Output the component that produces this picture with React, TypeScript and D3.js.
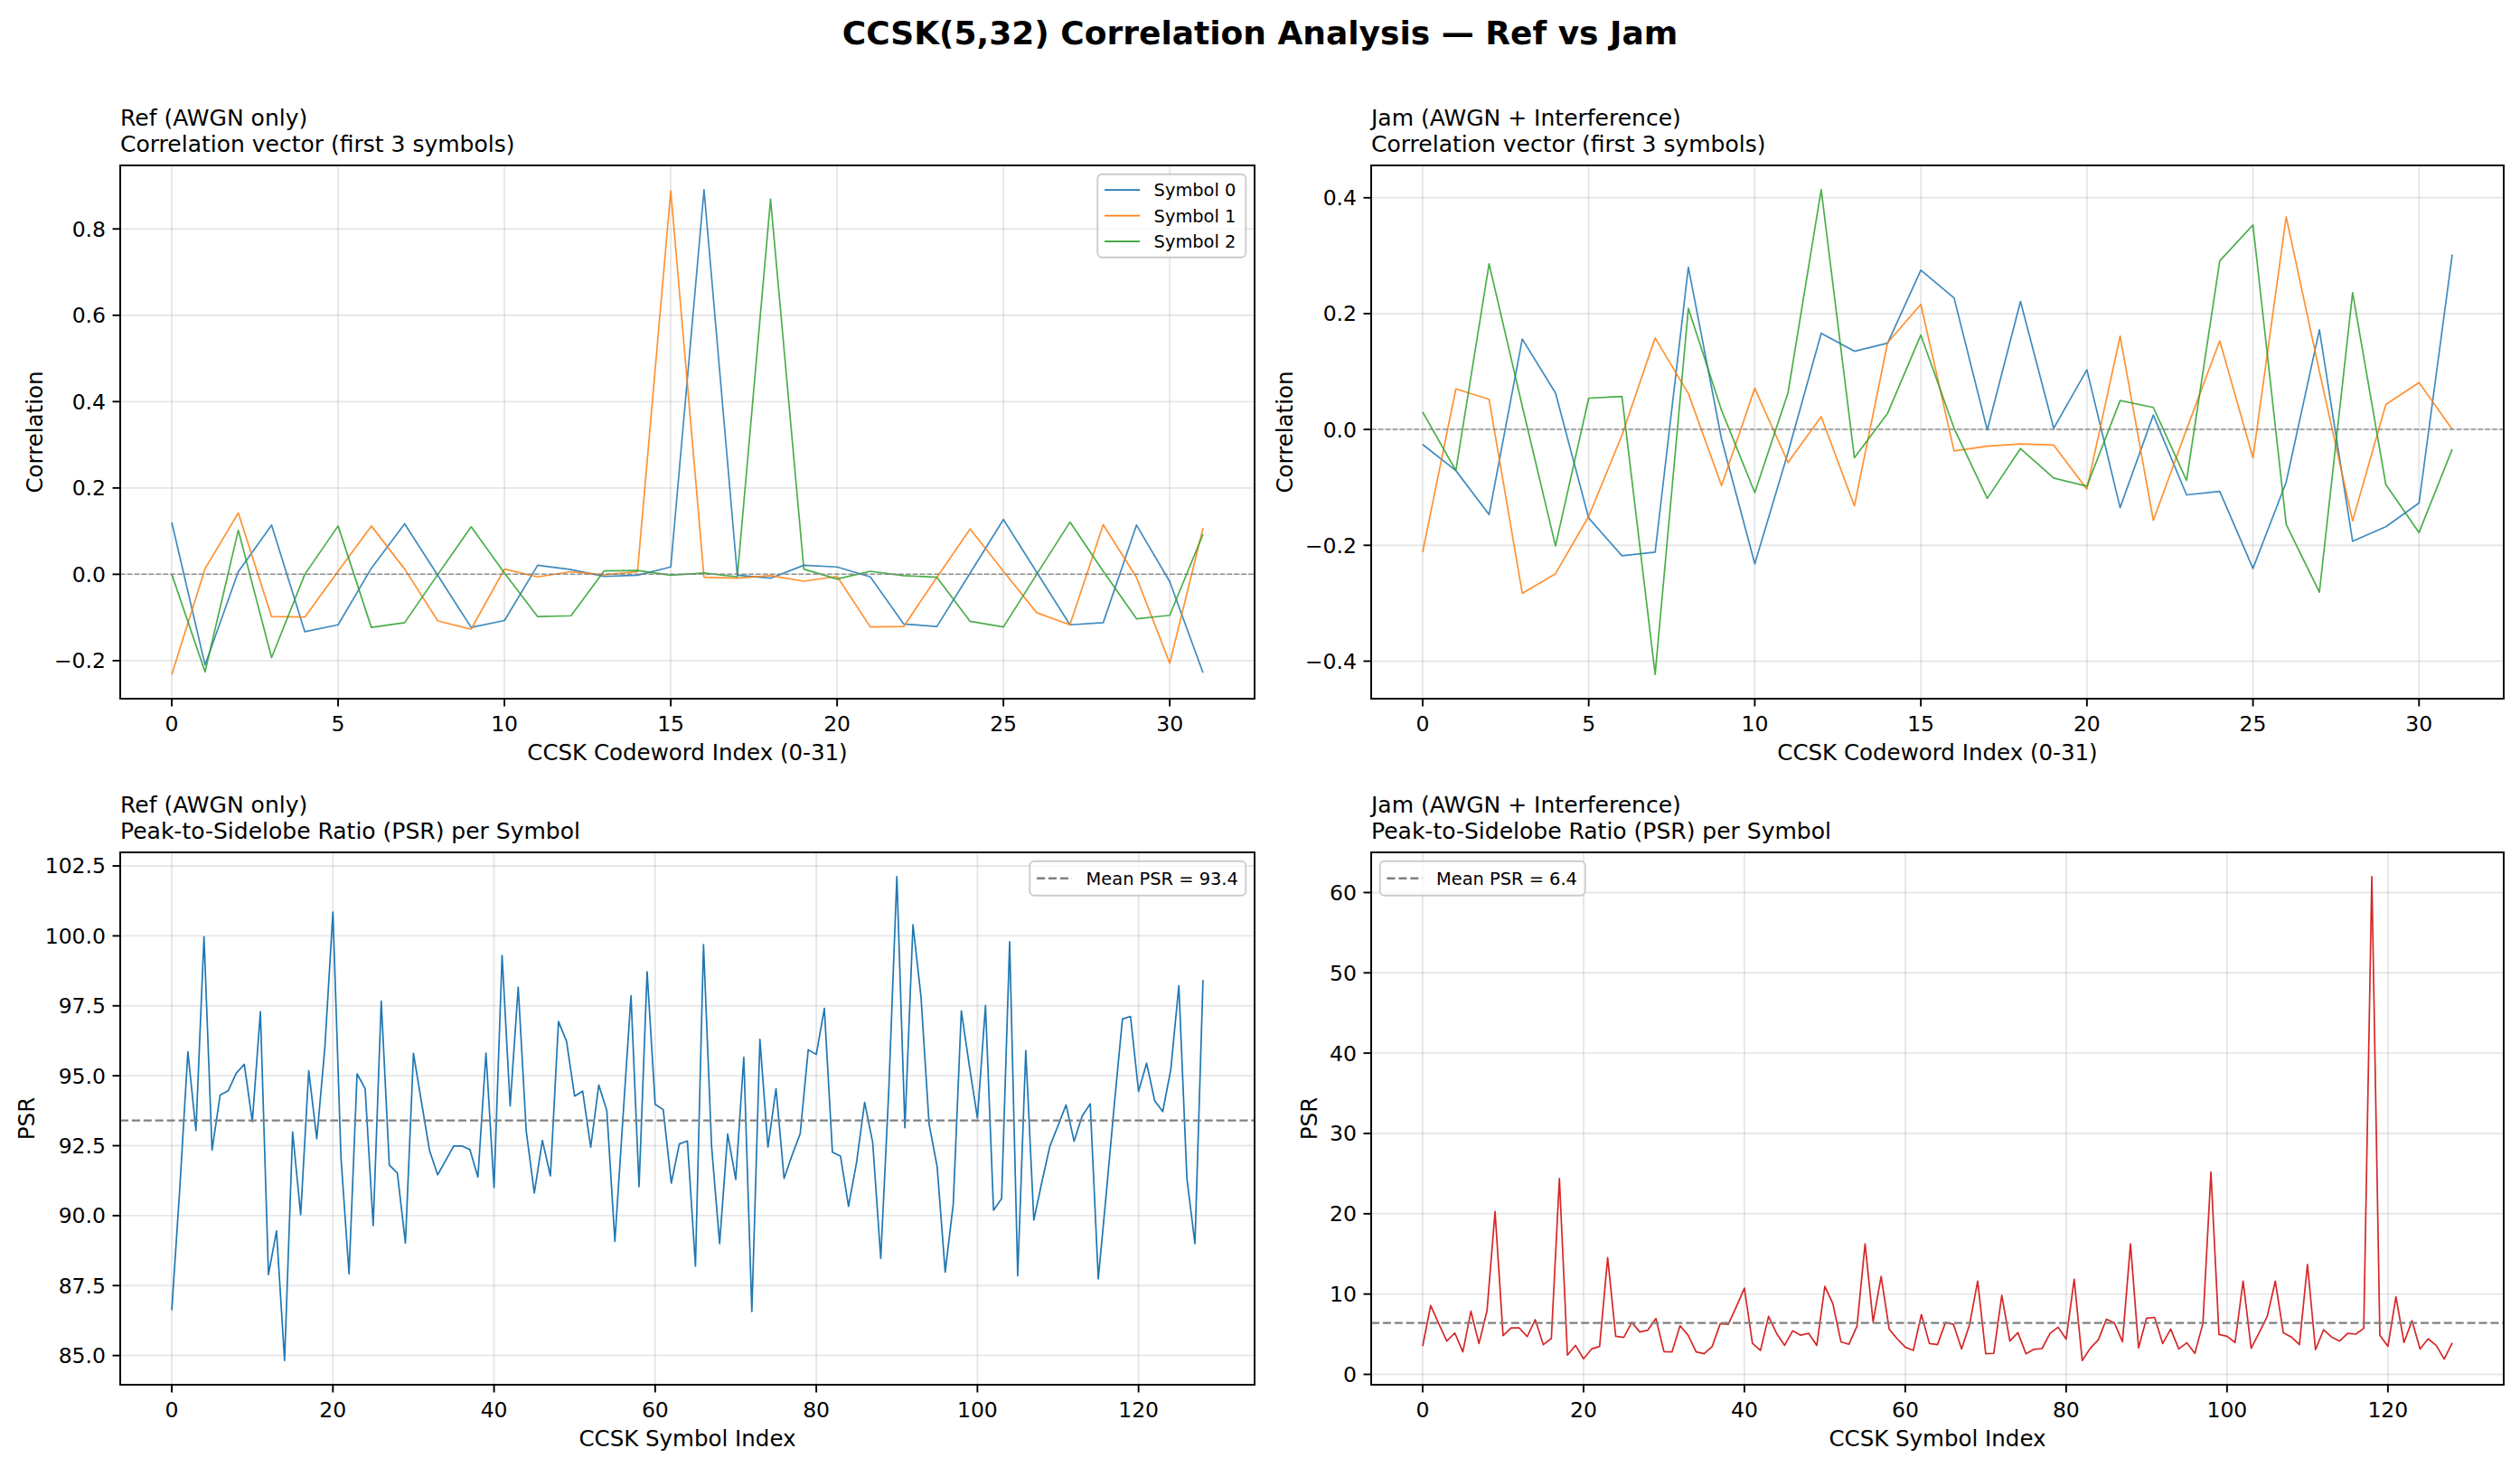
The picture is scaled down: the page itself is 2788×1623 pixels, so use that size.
import React from "react";
import * as d3 from "d3";

// ---- data ----
const codewordIndex = d3.range(32);
const symbolIndex = d3.range(129);

const refSymbol0 = [0.12, -0.21, 0.006, 0.114, -0.133, -0.117, 0.014, 0.117, -0.003, -0.123, -0.107, 0.021, 0.011, -0.005, -0.002, 0.017, 0.891, -0.002, -0.009, 0.021, 0.017, -0.006, -0.115, -0.121, 0.003, 0.127, 0.005, -0.117, -0.112, 0.114, -0.017, -0.228];
const refSymbol1 = [-0.232, 0.013, 0.142, -0.098, -0.099, 0.007, 0.112, 0.012, -0.108, -0.127, 0.012, -0.006, 0.006, -0.001, 0.006, 0.888, -0.007, -0.009, -0.003, -0.016, -0.005, -0.122, -0.121, -0.007, 0.105, 0.007, -0.089, -0.117, 0.115, -0.007, -0.206, 0.107];
const refSymbol2 = [0.0, -0.226, 0.102, -0.193, 0.0, 0.112, -0.123, -0.112, 0.0, 0.11, 0.003, -0.098, -0.096, 0.008, 0.009, -0.002, 0.003, -0.006, 0.869, 0.012, -0.011, 0.007, -0.003, -0.007, -0.109, -0.122, 0.0, 0.121, 0.007, -0.103, -0.095, 0.093];

const jamSymbol0 = [-0.026, -0.071, -0.147, 0.156, 0.063, -0.153, -0.218, -0.212, 0.28, -0.017, -0.232, -0.04, 0.166, 0.135, 0.149, 0.275, 0.227, -0.001, 0.221, 0.002, 0.103, -0.135, 0.025, -0.113, -0.107, -0.24, -0.091, 0.172, -0.193, -0.168, -0.127, 0.302];
const jamSymbol1 = [-0.212, 0.07, 0.052, -0.283, -0.249, -0.15, -0.01, 0.158, 0.062, -0.097, 0.071, -0.057, 0.022, -0.132, 0.15, 0.216, -0.037, -0.029, -0.025, -0.027, -0.103, 0.161, -0.157, 0.0, 0.153, -0.049, 0.367, 0.1, -0.158, 0.043, 0.081, 0.0];
const jamSymbol2 = [0.03, -0.071, 0.286, 0.04, -0.201, 0.054, 0.057, -0.423, 0.209, 0.033, -0.109, 0.063, 0.414, -0.049, 0.028, 0.163, 0.002, -0.119, -0.033, -0.084, -0.098, 0.05, 0.038, -0.088, 0.291, 0.353, -0.164, -0.281, 0.236, -0.095, -0.178, -0.034];

const refPsr = [
  86.62, 91.0, 95.86, 93.04, 99.97, 92.34, 94.31, 94.46, 95.09, 95.41,
  93.36, 97.29, 87.89, 89.45, 84.82, 92.99, 90.03, 95.18, 92.75, 96.0,
  100.85, 92.1, 87.92, 95.07, 94.54, 89.64, 97.67, 91.81, 91.52, 89.02,
  95.8, 94.05, 92.32, 91.46, 91.97, 92.49, 92.49, 92.36, 91.38, 95.81,
  91.0, 99.3, 93.92, 98.17, 93.01, 90.81, 92.69, 91.42, 96.94, 96.23,
  94.27, 94.45, 92.45, 94.67, 93.75, 89.08, 93.5, 97.86, 91.03, 98.72,
  93.98, 93.79, 91.16, 92.56, 92.67, 88.19, 99.69, 92.49, 89.0, 92.92,
  91.29, 95.66, 86.57, 96.3, 92.45, 94.54, 91.33, 92.16, 92.93, 95.93,
  95.76, 97.41, 92.27, 92.13, 90.33, 91.91, 94.05, 92.62, 88.47, 94.5,
  102.12, 93.14, 100.4, 97.81, 93.27, 91.75, 87.98, 90.42, 97.32, 95.35,
  93.49, 97.51, 90.19, 90.61, 99.79, 87.85, 95.9, 89.84, 91.2, 92.49,
  93.21, 93.96, 92.66, 93.56, 94.0, 87.74, 90.81, 94.0, 97.03, 97.12,
  94.44, 95.45, 94.11, 93.72, 95.22, 98.22, 91.33, 89.0, 98.42,
];
const jamPsr = [
  3.52, 8.58, 6.32, 4.15, 5.15, 2.8, 7.86, 3.84, 7.9, 20.27,
  4.83, 5.78, 5.78, 4.7, 6.82, 3.7, 4.47, 24.38, 2.39, 3.61,
  1.94, 3.16, 3.48, 14.54, 4.74, 4.6, 6.46, 5.28, 5.51, 6.95,
  2.84, 2.8, 6.05, 4.88, 2.8, 2.57, 3.48, 6.32, 6.23, 8.44,
  10.74, 3.88, 2.98, 7.22, 5.1, 3.61, 5.42, 4.88, 5.1, 3.61,
  10.97, 8.8, 4.06, 3.75, 6.0, 16.25, 6.55, 12.19, 5.64, 4.42,
  3.39, 2.98, 7.45, 3.84, 3.7, 6.46, 6.23, 3.16, 6.23, 11.6,
  2.57, 2.62, 9.84, 4.15, 5.19, 2.57, 3.12, 3.21, 5.1, 5.87,
  4.38, 11.83, 1.72, 3.25, 4.29, 6.86, 6.41, 4.06, 16.25, 3.3,
  7.0, 7.09, 3.84, 5.64, 3.16, 3.93, 2.62, 6.32, 25.19, 4.97,
  4.74, 3.97, 11.6, 3.25, 5.19, 7.22, 11.6, 5.19, 4.65, 3.7,
  13.68, 3.07, 5.55, 4.65, 4.15, 5.1, 5.01, 5.73, 61.99, 4.88,
  3.48, 9.66, 3.97, 6.68, 3.16, 4.42, 3.61, 1.9, 3.93,
];
const refMeanPsr = 93.4;
const jamMeanPsr = 6.4;

const codewordTicks = [0, 5, 10, 15, 20, 25, 30];
const symbolTicks = [0, 20, 40, 60, 80, 100, 120];
const refCorrTicks = [-0.2, 0, 0.2, 0.4, 0.6, 0.8];
const jamCorrTicks = [-0.4, -0.2, 0, 0.2, 0.4];
const refPsrTicks = [85, 87.5, 90, 92.5, 95, 97.5, 100, 102.5];
const jamPsrTicks = [0, 10, 20, 30, 40, 50, 60];
const symbolLabels = ["Symbol 0", "Symbol 1", "Symbol 2"];
const symbolColors = ["#1f77b4", "#ff7f0e", "#2ca02c"];

// ---- styling ----
const W = 2788;
const H = 1623;
const FONT = "'DejaVu Sans', sans-serif";
const TICK_FS = 23.5;
const LABEL_FS = 24.5;
const TITLE_FS = 25;
const LEGEND_FS = 19.4;
const LW = 1.9;

function padded(vals: number[]): [number, number] {
  const [lo, hi] = d3.extent(vals) as [number, number];
  const m = (hi - lo) * 0.05;
  return [lo - m, hi + m];
}

type Series = { values: number[]; color: string; width: number; opacity: number };
type LegendItem = { label: string; color: string; dash?: string; width: number };

function Panel(props: {
  id: string;
  box: { x: number; y: number; w: number; h: number };
  xs: number[];
  series: Series[];
  xTicks: number[];
  yTicks: number[];
  yFormat: (v: number) => string;
  titles: string[];
  xLabel: string;
  yLabel: string;
  yLabelX: number;
  hline: { value: number; dash: string; width: number; opacity: number };
  legend: { side: "left" | "right"; width: number; height: number; items: LegendItem[] };
}) {
  const { id, box, xs, series, xTicks, yTicks, yFormat, titles, xLabel, yLabel, yLabelX, hline, legend } = props;
  const x = d3.scaleLinear().domain(padded(xs)).range([box.x, box.x + box.w]);
  const y = d3
    .scaleLinear()
    .domain(padded(series.flatMap((s) => s.values)))
    .range([box.y + box.h, box.y]);
  const line = d3
    .line<number>()
    .x((_, i) => x(xs[i]))
    .y((d) => y(d));
  const bottom = box.y + box.h;
  const right = box.x + box.w;

  const lx = legend.side === "right" ? right - 9.7 - legend.width : box.x + 9.7;
  const ly = box.y + 9.7;
  const rowPitch = LEGEND_FS * 1.47;
  const firstRow = ly + legend.height / 2 - ((legend.items.length - 1) * rowPitch) / 2;

  return (
    <g>
      <defs>
        <clipPath id={`clip-${id}`}>
          <rect x={box.x} y={box.y} width={box.w} height={box.h} />
        </clipPath>
      </defs>
      {/* grid */}
      <g stroke="#b0b0b0" strokeOpacity={0.3} strokeWidth={LW}>
        {xTicks.map((t) => (
          <line key={`gx${t}`} x1={x(t)} x2={x(t)} y1={box.y} y2={bottom} />
        ))}
        {yTicks.map((t) => (
          <line key={`gy${t}`} x1={box.x} x2={right} y1={y(t)} y2={y(t)} />
        ))}
      </g>
      <g clipPath={`url(#clip-${id})`}>
        {series.map((s, i) => (
          <path
            key={i}
            d={line(s.values) || ""}
            fill="none"
            stroke={s.color}
            strokeWidth={s.width}
            strokeOpacity={s.opacity}
            strokeLinejoin="round"
          />
        ))}
        <line
          x1={box.x}
          x2={right}
          y1={y(hline.value)}
          y2={y(hline.value)}
          stroke="#808080"
          strokeOpacity={hline.opacity}
          strokeWidth={hline.width}
          strokeDasharray={hline.dash}
        />
      </g>
      {/* spines */}
      <rect x={box.x} y={box.y} width={box.w} height={box.h} fill="none" stroke="#000" strokeWidth={LW} />
      {/* ticks */}
      <g fontFamily={FONT} fontSize={TICK_FS} fill="#000">
        {xTicks.map((t) => (
          <g key={`tx${t}`}>
            <line x1={x(t)} x2={x(t)} y1={bottom} y2={bottom + 8.5} stroke="#000" strokeWidth={LW} />
            <text x={x(t)} y={bottom + 36} textAnchor="middle">
              {d3.format("d")(t)}
            </text>
          </g>
        ))}
        {yTicks.map((t) => (
          <g key={`ty${t}`}>
            <line x1={box.x - 8.5} x2={box.x} y1={y(t)} y2={y(t)} stroke="#000" strokeWidth={LW} />
            <text x={box.x - 16} y={y(t)} dy="0.36em" textAnchor="end">
              {yFormat(t)}
            </text>
          </g>
        ))}
      </g>
      {/* labels */}
      <text
        x={box.x + box.w / 2}
        y={bottom + 68}
        textAnchor="middle"
        fontFamily={FONT}
        fontSize={LABEL_FS}
      >
        {xLabel}
      </text>
      <text
        transform={`translate(${yLabelX},${box.y + box.h / 2}) rotate(-90)`}
        dy="0.36em"
        textAnchor="middle"
        fontFamily={FONT}
        fontSize={LABEL_FS}
      >
        {yLabel}
      </text>
      {titles.map((t, i) => (
        <text
          key={t}
          x={box.x}
          y={box.y - 15 - (titles.length - 1 - i) * TITLE_FS * 1.17}
          fontFamily={FONT}
          fontSize={TITLE_FS}
        >
          {t}
        </text>
      ))}
      {/* legend */}
      {legend.items.length > 0 && (
        <g>
          <rect
            x={lx}
            y={ly}
            width={legend.width}
            height={legend.height}
            rx={5}
            fill="#fff"
            fillOpacity={0.8}
            stroke="#cccccc"
            strokeWidth={LW}
          />
          {legend.items.map((it, i) => {
            const ry = firstRow + i * rowPitch;
            return (
              <g key={it.label}>
                <line
                  x1={lx + 7.8}
                  x2={lx + 7.8 + 39}
                  y1={ry}
                  y2={ry}
                  stroke={it.color}
                  strokeWidth={it.width}
                  strokeDasharray={it.dash}
                />
                <text x={lx + 7.8 + 39 + 15.5} y={ry} dy="0.36em" fontFamily={FONT} fontSize={LEGEND_FS}>
                  {it.label}
                </text>
              </g>
            );
          })}
        </g>
      )}
    </g>
  );
}

export default function App() {
  const corrFmt = d3.format(".1f");
  const refSeries = [refSymbol0, refSymbol1, refSymbol2].map((v, i) => ({
    values: v,
    color: symbolColors[i],
    width: 1.7,
    opacity: 0.85,
  }));
  const jamSeries = [jamSymbol0, jamSymbol1, jamSymbol2].map((v, i) => ({
    values: v,
    color: symbolColors[i],
    width: 1.7,
    opacity: 0.85,
  }));
  const symbolLegend = symbolLabels.map((l, i) => ({ label: l, color: symbolColors[i], width: 1.7 }));

  return (
    <svg
      width={W}
      height={H}
      viewBox={`0 0 ${W} ${H}`}
      style={{ position: "absolute", left: 0, top: 0, background: "#fff" }}
    >
      <rect width={W} height={H} fill="#fff" />
      <text x={W / 2} y={49} textAnchor="middle" fontFamily={FONT} fontSize={36} fontWeight="bold">
        CCSK(5,32) Correlation Analysis — Ref vs Jam
      </text>
      <Panel
        id="tl"
        box={{ x: 133, y: 183, w: 1255, h: 590 }}
        xs={codewordIndex}
        series={refSeries}
        xTicks={codewordTicks}
        yTicks={refCorrTicks}
        yFormat={corrFmt}
        titles={["Ref (AWGN only)", "Correlation vector (first 3 symbols)"]}
        xLabel="CCSK Codeword Index (0-31)"
        yLabel="Correlation"
        yLabelX={38}
        hline={{ value: 0, dash: "5.5 2.4", width: 1.5, opacity: 0.85 }}
        legend={{ side: "right", width: 164, height: 92, items: symbolLegend }}
      />
      <Panel
        id="tr"
        box={{ x: 1517, y: 183, w: 1253, h: 590 }}
        xs={codewordIndex}
        series={jamSeries}
        xTicks={codewordTicks}
        yTicks={jamCorrTicks}
        yFormat={corrFmt}
        titles={["Jam (AWGN + Interference)", "Correlation vector (first 3 symbols)"]}
        xLabel="CCSK Codeword Index (0-31)"
        yLabel="Correlation"
        yLabelX={1421}
        hline={{ value: 0, dash: "5.5 2.4", width: 1.5, opacity: 0.85 }}
        legend={{ side: "right", width: 0, height: 0, items: [] }}
      />
      <Panel
        id="bl"
        box={{ x: 133, y: 943, w: 1255, h: 589 }}
        xs={symbolIndex}
        series={[{ values: refPsr, color: "#1f77b4", width: 1.7, opacity: 1 }]}
        xTicks={symbolTicks}
        yTicks={refPsrTicks}
        yFormat={d3.format(".1f")}
        titles={["Ref (AWGN only)", "Peak-to-Sidelobe Ratio (PSR) per Symbol"]}
        xLabel="CCSK Symbol Index"
        yLabel="PSR"
        yLabelX={29}
        hline={{ value: refMeanPsr, dash: "9 3.9", width: 2.4, opacity: 1 }}
        legend={{
          side: "right",
          width: 239,
          height: 38,
          items: [{ label: `Mean PSR = ${refMeanPsr.toFixed(1)}`, color: "#808080", dash: "9 3.9", width: 2.4 }],
        }}
      />
      <Panel
        id="br"
        box={{ x: 1517, y: 943, w: 1253, h: 589 }}
        xs={symbolIndex}
        series={[{ values: jamPsr, color: "#d62728", width: 1.7, opacity: 1 }]}
        xTicks={symbolTicks}
        yTicks={jamPsrTicks}
        yFormat={d3.format("d")}
        titles={["Jam (AWGN + Interference)", "Peak-to-Sidelobe Ratio (PSR) per Symbol"]}
        xLabel="CCSK Symbol Index"
        yLabel="PSR"
        yLabelX={1448}
        hline={{ value: jamMeanPsr, dash: "9 3.9", width: 2.4, opacity: 1 }}
        legend={{
          side: "left",
          width: 227,
          height: 38,
          items: [{ label: `Mean PSR = ${jamMeanPsr.toFixed(1)}`, color: "#808080", dash: "9 3.9", width: 2.4 }],
        }}
      />
    </svg>
  );
}
